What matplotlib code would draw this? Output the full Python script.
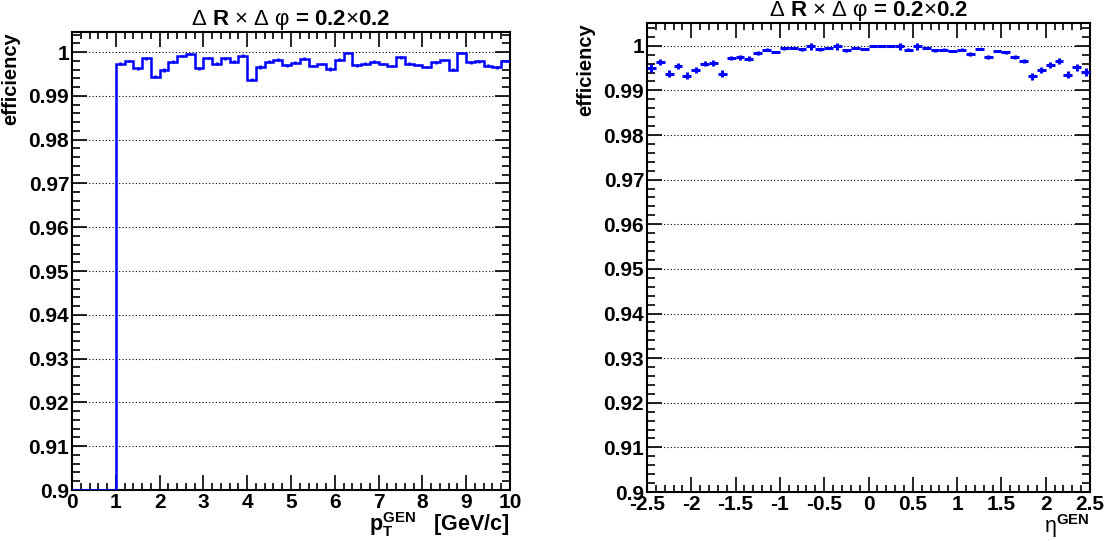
import numpy as np
import matplotlib
matplotlib.use("Agg")
from matplotlib import pyplot as plt
from matplotlib.ticker import MultipleLocator, FuncFormatter

plt.rcParams['font.family'] = ['Liberation Sans', 'DejaVu Sans']
plt.rcParams['mathtext.fontset'] = 'custom'
plt.rcParams['mathtext.rm'] = 'Liberation Sans:weight=normal'
plt.rcParams['mathtext.it'] = 'Liberation Sans:italic:weight=normal'
plt.rcParams['mathtext.bf'] = 'Liberation Sans:weight=bold'

# efficiency vs pT, 0.2 GeV/c bins from 0 to 10 (no entries below 1 GeV/c)
pt_edges = np.linspace(0, 10, 51)
pt_eff = [0.0, 0.0, 0.0, 0.0, 0.0,
          0.9974, 0.9980, 0.9963, 0.9986, 0.9944, 0.9959, 0.9978, 0.9991, 0.9995, 0.9963,
          0.9987, 0.9974, 0.9986, 0.9978, 0.9992, 0.9937, 0.9966, 0.9978, 0.9983, 0.9970,
          0.9976, 0.9985, 0.9968, 0.9973, 0.9962, 0.9983, 0.9999, 0.9970, 0.9974, 0.9978,
          0.9973, 0.9968, 0.9988, 0.9974, 0.9971, 0.9966, 0.9977, 0.9982, 0.9960, 0.9997,
          0.9977, 0.9979, 0.9969, 0.9965, 0.9980]
pt_err = [0.0, 0.0, 0.0, 0.0, 0.0,
          0.0003, 0.0003, 0.0004, 0.0003, 0.0004, 0.0004, 0.0003, 0.0003, 0.0002, 0.0004,
          0.0003, 0.0003, 0.0003, 0.0003, 0.0003, 0.0004, 0.0004, 0.0003, 0.0003, 0.0003,
          0.0003, 0.0003, 0.0003, 0.0003, 0.0004, 0.0003, 0.0002, 0.0003, 0.0003, 0.0003,
          0.0003, 0.0003, 0.0003, 0.0003, 0.0003, 0.0003, 0.0003, 0.0003, 0.0004, 0.0002,
          0.0003, 0.0003, 0.0003, 0.0004, 0.0003]

# efficiency vs eta, 0.1 bins from -2.5 to 2.5
eta_edges = np.linspace(-2.5, 2.5, 51)
eta_eff = [0.9950, 0.9963, 0.9937, 0.9954, 0.9933, 0.9946, 0.9960, 0.9961, 0.9937, 0.9972,
           0.9974, 0.9971, 0.9984, 0.9991, 0.9986, 0.9994, 0.9996, 0.9992, 0.9999, 0.9992,
           0.9996, 0.9999, 0.9990, 0.9996, 0.9993, 1.0000, 1.0000, 1.0000, 0.9999, 0.9991,
           0.9999, 0.9996, 0.9990, 0.9991, 0.9988, 0.9991, 0.9982, 0.9993, 0.9975, 0.9988,
           0.9985, 0.9975, 0.9966, 0.9932, 0.9945, 0.9957, 0.9966, 0.9935, 0.9952, 0.9942]
eta_err = [0.0009, 0.0007, 0.0008, 0.0007, 0.0008, 0.0007, 0.0006, 0.0006, 0.0008, 0.0005,
           0.0005, 0.0005, 0.0004, 0.0003, 0.0003, 0.0003, 0.0002, 0.0003, 0.0008, 0.0003,
           0.0002, 0.0008, 0.0003, 0.0002, 0.0002, 0.0, 0.0, 0.0, 0.0008, 0.0003,
           0.0008, 0.0002, 0.0003, 0.0003, 0.0003, 0.0003, 0.0004, 0.0003, 0.0005, 0.0003,
           0.0003, 0.0005, 0.0005, 0.0008, 0.0007, 0.0007, 0.0006, 0.0008, 0.0008, 0.0009]

title = r"$\mathrm{\Delta}$ R $\mathrm{\times}$ $\mathrm{\Delta}$ $\mathrm{\varphi}$ = 0.2$\mathrm{\times}$0.2"
ymin = 0.9
W, H = 1108, 541


def style_axes(ax, xmajor, xminor, ytop, tpad):
    ax.set_ylim(ymin, ytop)
    ax.xaxis.set_major_locator(MultipleLocator(xmajor))
    ax.xaxis.set_minor_locator(MultipleLocator(xminor))
    ax.yaxis.set_major_locator(MultipleLocator(0.01))
    ax.yaxis.set_minor_locator(MultipleLocator(0.002))
    fmt = FuncFormatter(lambda v, p: "{:g}".format(round(v, 3)))
    ax.xaxis.set_major_formatter(fmt)
    ax.yaxis.set_major_formatter(fmt)
    ax.tick_params(which='both', direction='in', top=True, right=True, labelsize=15, width=1.2)
    ax.tick_params(axis='x', which='major', length=11, pad=2)
    ax.tick_params(axis='x', which='minor', length=5)
    ax.tick_params(axis='y', which='major', length=11, pad=2)
    ax.tick_params(axis='y', which='minor', length=6)
    for lab in ax.get_xticklabels() + ax.get_yticklabels():
        lab.set_fontweight('bold')
    ax.yaxis.grid(True, which='major', linestyle=(0, (1, 2)), color='black', lw=0.8)
    for s in ax.spines.values():
        s.set_linewidth(1.5)
    ax.set_ylabel("efficiency", fontsize=14.5, fontweight='bold', loc='top', labelpad=6)
    ax.set_title(title, fontsize=16, fontweight='bold', pad=tpad)


fig = plt.figure(figsize=(W / 100, H / 100), dpi=100)

# left: pT
ax1 = fig.add_axes([72 / W, 1 - 490 / H, (510 - 72) / W, (490 - 32) / H])
ax1.set_xlim(0, 10)
ax1.stairs(np.clip(pt_eff, ymin, None), pt_edges, color='blue', lw=1.8, baseline=None, zorder=3)
pt_centers = 0.5 * (pt_edges[1:] + pt_edges[:-1])
pt_mask = np.array(pt_err) > 0
ax1.errorbar(pt_centers[pt_mask], np.array(pt_eff)[pt_mask], yerr=np.array(pt_err)[pt_mask],
             fmt='none', ecolor='blue', elinewidth=1.8, capsize=0, zorder=3)
style_axes(ax1, 1, 0.2, 1.0046, 2)
ax1.set_xlabel(r"$\mathbf{p_{T}^{GEN}}$   [GeV/c]", fontsize=15.5, fontweight='bold',
               loc='right', labelpad=-1)

# right: eta
ax2 = fig.add_axes([647 / W, 1 - 492 / H, (1090 - 647) / W, (492 - 23) / H])
ax2.set_xlim(-2.5, 2.5)
eta_centers = 0.5 * (eta_edges[1:] + eta_edges[:-1])
ax2.errorbar(eta_centers, eta_eff, xerr=0.05, yerr=eta_err,
             fmt='none', ecolor='blue', elinewidth=2.2, capsize=0, zorder=3)
style_axes(ax2, 0.5, 0.1, 1.0051, -3)
ax2.set_xlabel(r"$\mathrm{\eta}^{\mathbf{GEN}}$", fontsize=15.5, fontweight='bold',
               loc='right', labelpad=-1)

fig.savefig("out.png", dpi=100)
